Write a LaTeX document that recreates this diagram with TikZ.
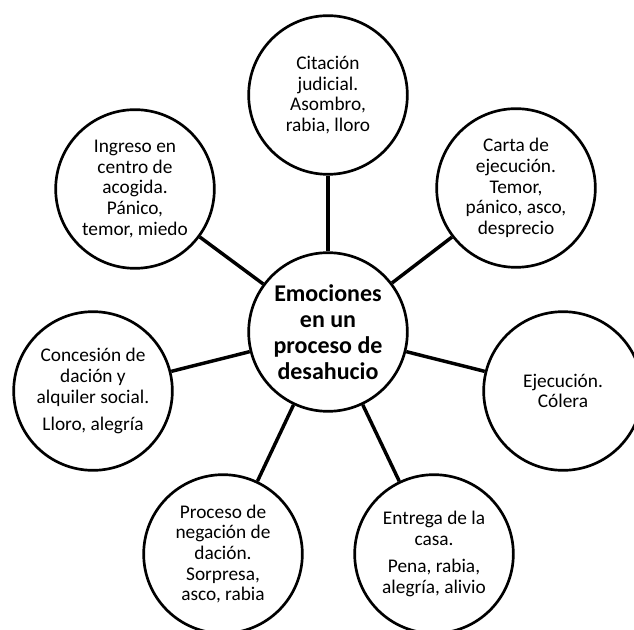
\documentclass[tikz,border=0pt]{standalone}
\usepackage{fontspec}
\setmainfont{Carlito}
\usepackage{tikz}
\usetikzlibrary{positioning}

\begin{document}
\begin{tikzpicture}[x=0.75pt, y=-0.75pt,
    -,
  %  node distance=1cm,
    bb/.style={%
      circle, draw=black, line width=2pt, fill=white,
      minimum size=119pt, inner sep=0pt, align=center,
      font=\fontsize{14.5}{15.5}\selectfont
    },
    hub/.style={%
      bb, font=\fontsize{18}{19.5}\selectfont\bfseries
    },
    link/.style={%
      draw=black, line width=2.6pt
    }
]
    \clip (0,0) rectangle (634,630);

    \node[hub] (0) at (328,332) {Emociones\\en un\\proceso de\\desahucio};
    \node[bb]  (1) at (328,95)  {Citación\\judicial.\\Asombro,\\rabia, lloro};
    \node[bb]  (2) at (516,188) {Carta de\\ejecución.\\Temor,\\pánico, asco,\\desprecio};
    \node[bb]  (3) at (563,391) {Ejecución.\\Cólera};
    \node[bb]  (4) at (434,554) {Entrega de la\\casa.\\[5pt]Pena, rabia,\\alegría, alivio};
    \node[bb]  (5) at (223,554) {Proceso de\\negación de\\dación.\\Sorpresa,\\asco, rabia};
    \node[bb]  (6) at (93,391)  {Concesión de\\dación y\\alquiler social.\\[5pt]Lloro, alegría};
    \node[bb]  (7) at (135,189) {Ingreso en\\centro de\\acogida.\\Pánico,\\temor, miedo};

    \path (0) edge[link] (1)
          (0) edge[link] (2)
          (0) edge[link] (3)
          (0) edge[link] (4)
          (0) edge[link] (5)
          (0) edge[link] (6)
          (0) edge[link] (7)
    ;

\end{tikzpicture}
\end{document}
